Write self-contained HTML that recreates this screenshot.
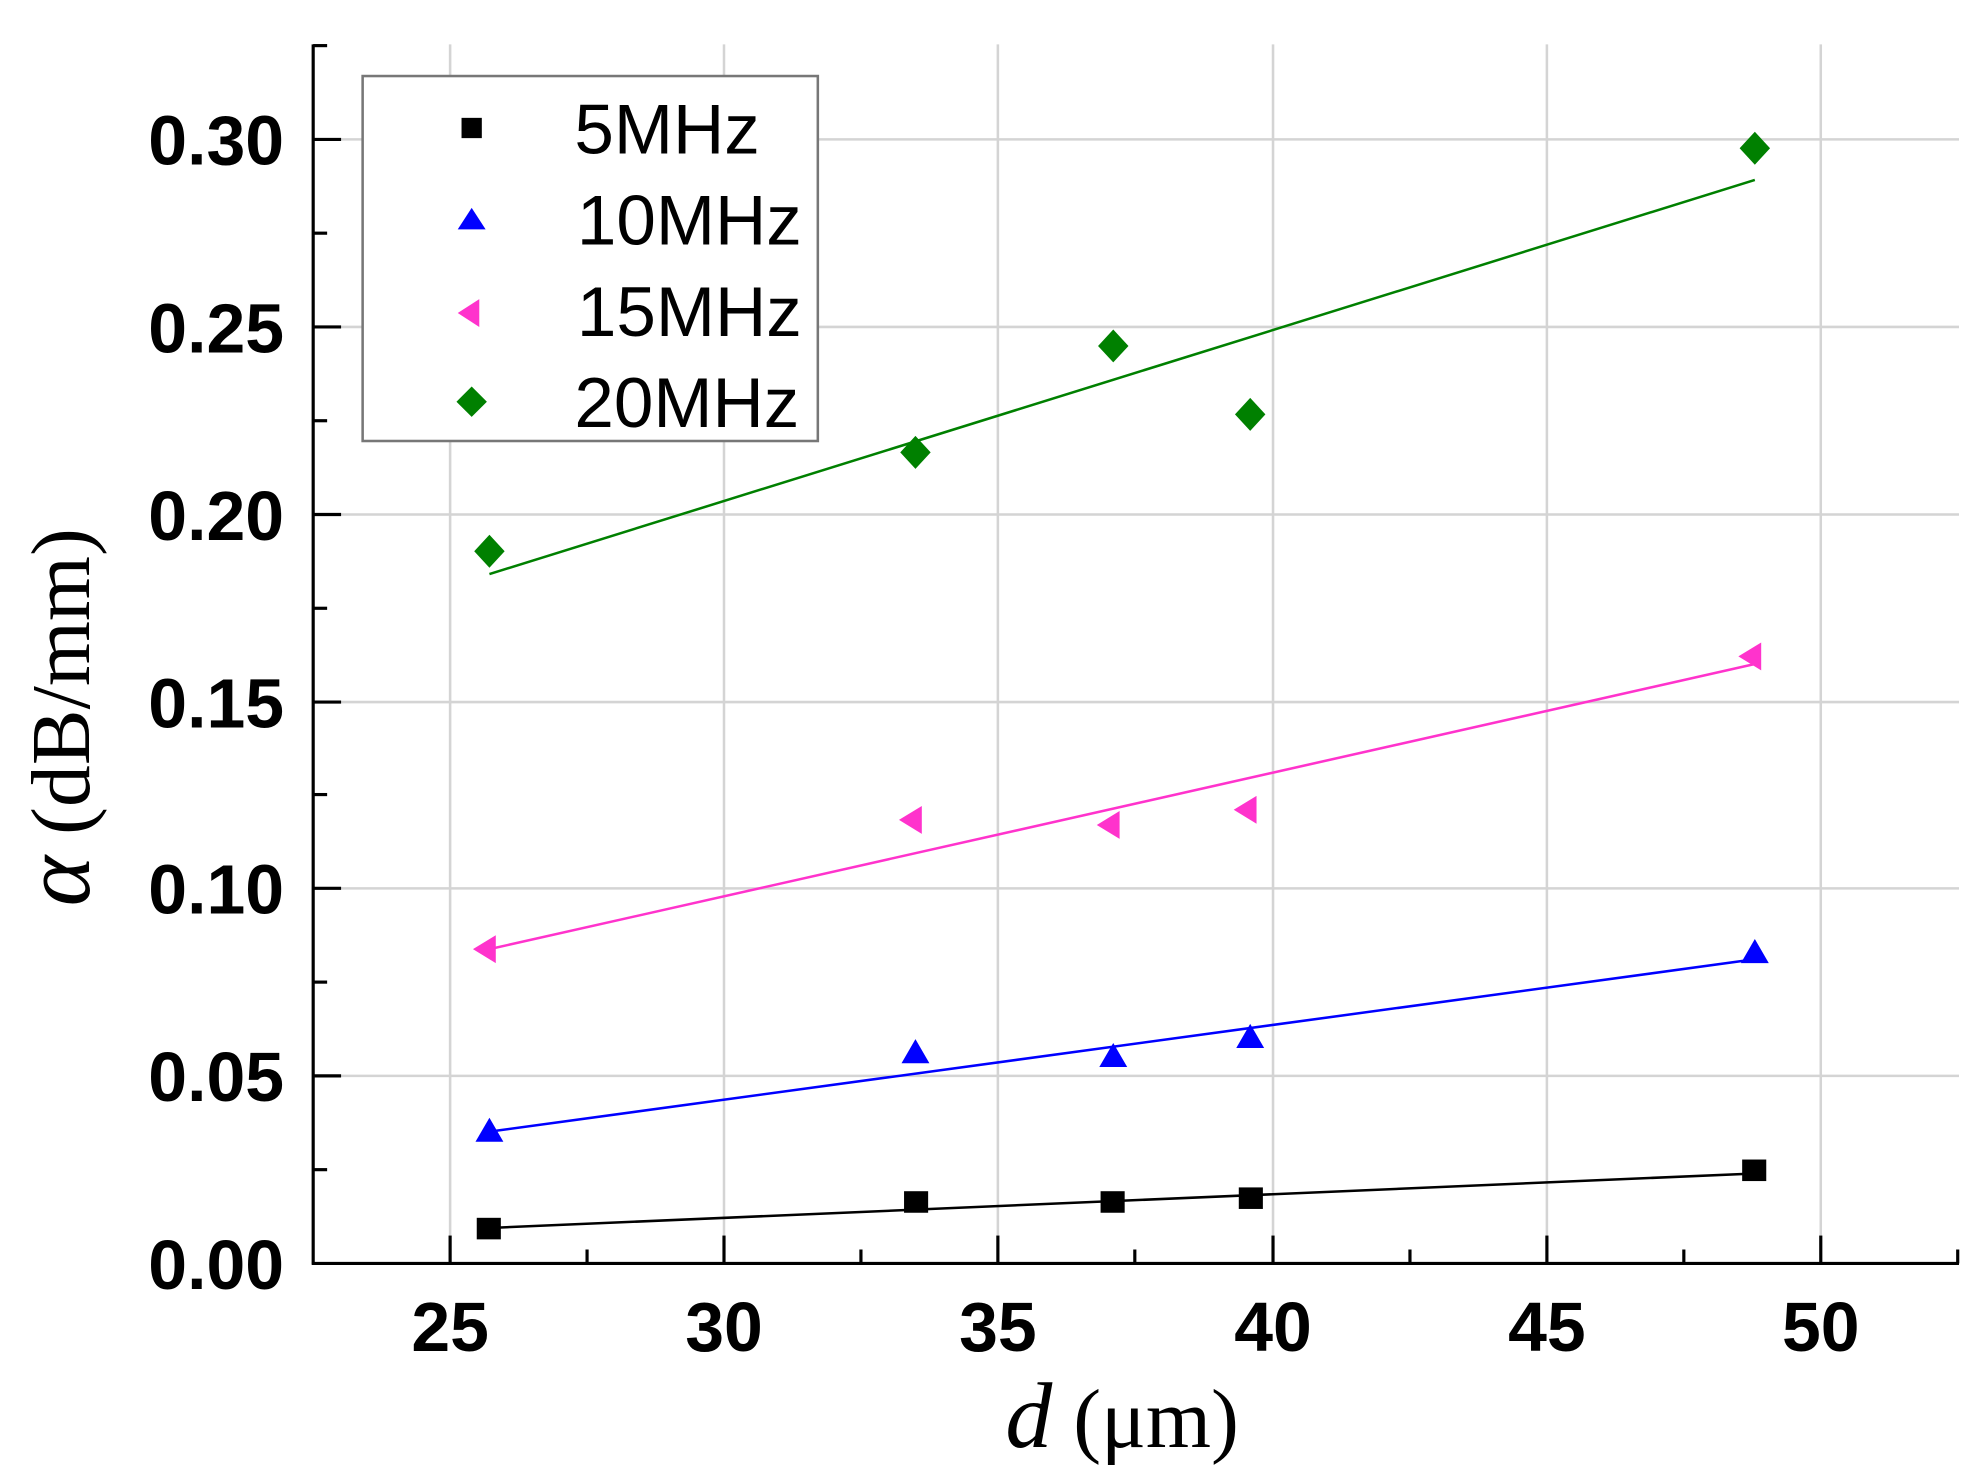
<!DOCTYPE html>
<html><head><meta charset="utf-8"><style>html,body{margin:0;padding:0;background:#fff}svg{display:block}</style></head>
<body>
<svg width="1978" height="1470" viewBox="0 0 1560 1160" preserveAspectRatio="none" xmlns="http://www.w3.org/2000/svg">
<rect width="1560" height="1160" fill="#fff"/>
<g stroke="#d4d4d4" stroke-width="2">
<line x1="355" y1="35" x2="355" y2="997"/><line x1="571" y1="35" x2="571" y2="997"/><line x1="787" y1="35" x2="787" y2="997"/><line x1="1004" y1="35" x2="1004" y2="997"/><line x1="1220" y1="35" x2="1220" y2="997"/><line x1="1436" y1="35" x2="1436" y2="997"/>
<line x1="247" y1="849" x2="1545" y2="849"/><line x1="247" y1="701" x2="1545" y2="701"/><line x1="247" y1="554" x2="1545" y2="554"/><line x1="247" y1="406" x2="1545" y2="406"/><line x1="247" y1="258" x2="1545" y2="258"/><line x1="247" y1="110" x2="1545" y2="110"/>
</g>
<g stroke="#000" stroke-width="2.5">
<line x1="247" y1="35" x2="247" y2="998"/><line x1="246" y1="997" x2="1545" y2="997"/>
<line x1="355" y1="997" x2="355" y2="975"/><line x1="571" y1="997" x2="571" y2="975"/><line x1="787" y1="997" x2="787" y2="975"/><line x1="1004" y1="997" x2="1004" y2="975"/><line x1="1220" y1="997" x2="1220" y2="975"/><line x1="1436" y1="997" x2="1436" y2="975"/>
<line x1="463" y1="997" x2="463" y2="986"/><line x1="679" y1="997" x2="679" y2="986"/><line x1="895" y1="997" x2="895" y2="986"/><line x1="1112" y1="997" x2="1112" y2="986"/><line x1="1328" y1="997" x2="1328" y2="986"/><line x1="1544" y1="997" x2="1544" y2="986"/>
<line x1="247" y1="849" x2="269" y2="849"/><line x1="247" y1="701" x2="269" y2="701"/><line x1="247" y1="554" x2="269" y2="554"/><line x1="247" y1="406" x2="269" y2="406"/><line x1="247" y1="258" x2="269" y2="258"/><line x1="247" y1="110" x2="269" y2="110"/>
<line x1="247" y1="923" x2="258" y2="923"/><line x1="247" y1="775" x2="258" y2="775"/><line x1="247" y1="627" x2="258" y2="627"/><line x1="247" y1="480" x2="258" y2="480"/><line x1="247" y1="332" x2="258" y2="332"/><line x1="247" y1="184" x2="258" y2="184"/><line x1="247" y1="36" x2="258" y2="36"/>
</g>
<g font-family="'Liberation Sans',sans-serif" font-weight="bold" font-size="55" fill="#000">
<g text-anchor="end">
<text x="224" y="1017">0.00</text><text x="224" y="869">0.05</text><text x="224" y="721">0.10</text><text x="224" y="574">0.15</text><text x="224" y="426">0.20</text><text x="224" y="278">0.25</text><text x="224" y="130">0.30</text>
</g>
<g text-anchor="middle">
<text x="355" y="1066">25</text><text x="571" y="1066">30</text><text x="787" y="1066">35</text><text x="1004" y="1066">40</text><text x="1220" y="1066">45</text><text x="1436" y="1066">50</text>
</g>
</g>
<text x="885" y="1142" text-anchor="middle" font-family="'Liberation Serif',serif" font-size="66"><tspan font-style="italic" font-size="74">d</tspan> (μm)</text>
<text transform="translate(70,566) rotate(-90)" text-anchor="middle" font-family="'Liberation Serif',serif" font-size="66"><tspan font-style="italic" font-size="76">α</tspan> (dB/mm)</text>
<g stroke-width="2">
<line x1="386" y1="969" x2="1384" y2="926" stroke="#000"/>
<line x1="386" y1="893" x2="1384" y2="757" stroke="#0000ff"/>
<line x1="386" y1="749" x2="1384" y2="524" stroke="#ff33cc"/>
<line x1="386" y1="453" x2="1384" y2="142" stroke="#008000"/>
</g>
<g fill="#000">
<rect x="376" y="961" width="19" height="17"/><rect x="713" y="940" width="19" height="17"/><rect x="868" y="940" width="19" height="17"/><rect x="977" y="937" width="19" height="17"/><rect x="1374" y="915" width="19" height="17"/>
</g>
<g fill="#0000ff">
<path d="M386,882 l11,19 h-22z"/><path d="M722,820 l11,19 h-22z"/><path d="M878,823 l11,19 h-22z"/><path d="M986,808 l11,19 h-22z"/><path d="M1384,741 l11,19 h-22z"/>
</g>
<g fill="#ff33cc">
<path d="M373,749 l18,-11 v22z"/><path d="M709,647 l18,-11 v22z"/><path d="M865,651 l18,-11 v22z"/><path d="M973,639 l18,-11 v22z"/><path d="M1371,518 l18,-11 v22z"/>
</g>
<g fill="#008000">
<path d="M386,422 l12,13 l-12,13 l-12,-13z"/><path d="M722,344 l12,13 l-12,13 l-12,-13z"/><path d="M878,260 l12,13 l-12,13 l-12,-13z"/><path d="M986,314 l12,13 l-12,13 l-12,-13z"/><path d="M1384,104 l12,13 l-12,13 l-12,-13z"/>
</g>
<rect x="286" y="60" width="359" height="288" fill="#fff" stroke="#777" stroke-width="2"/>
<rect x="364" y="93" width="16" height="16" fill="#000"/>
<path d="M372,164 l11,17 h-22z" fill="#0000ff"/>
<path d="M361,247 l17,-11 v22z" fill="#ff33cc"/>
<path d="M372,305 l12,12 l-12,12 l-12,-12z" fill="#008000"/>
<g font-family="'Liberation Sans',sans-serif" font-size="56" fill="#000">
<text x="453" y="121">5MHz</text><text x="455" y="193">10MHz</text><text x="455" y="265">15MHz</text><text x="453" y="337">20MHz</text>
</g>
</svg>
</body></html>
